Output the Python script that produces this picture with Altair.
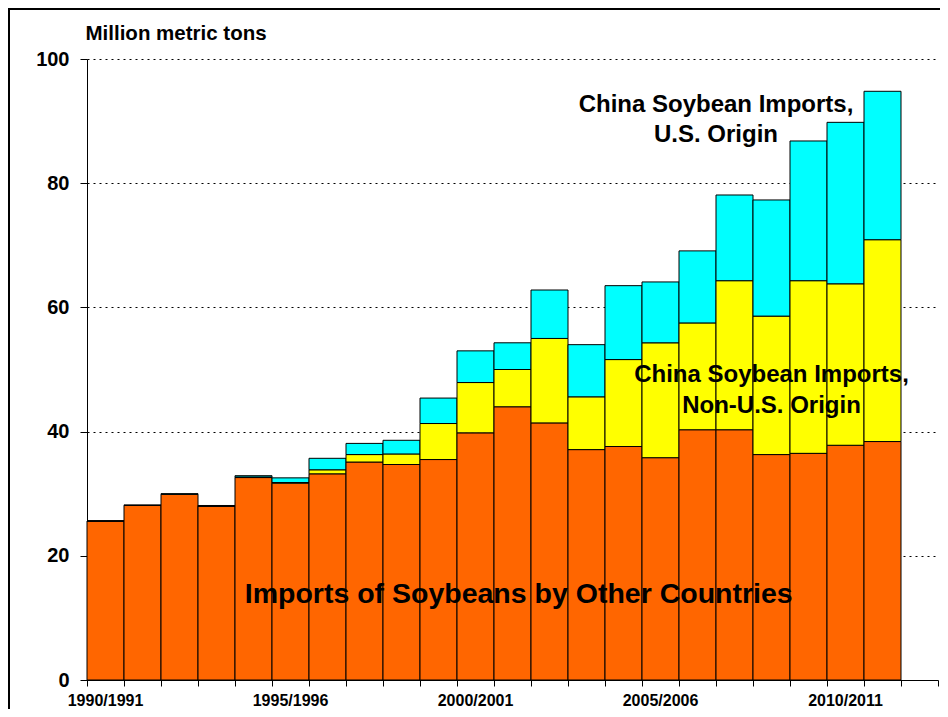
import json
import altair as alt
import pandas as pd

# ---- data -------------------------------------------------------------
years = ["1990/1991", "1991/1992", "1992/1993", "1993/1994", "1994/1995",
         "1995/1996", "1996/1997", "1997/1998", "1998/1999", "1999/2000",
         "2000/2001", "2001/2002", "2002/2003", "2003/2004", "2004/2005",
         "2005/2006", "2006/2007", "2007/2008", "2008/2009", "2009/2010",
         "2010/2011", "2011/2012"]
empty_year = "2012/2013"
labeled_years = ["1990/1991", "1995/1996", "2000/2001", "2005/2006", "2010/2011"]

other_countries = [25.6, 28.1, 29.9, 28.0, 32.6, 31.7, 33.2, 35.1, 34.7, 35.5,
                   39.8, 44.0, 41.4, 37.1, 37.6, 35.8, 40.3, 40.3, 36.3, 36.5,
                   37.8, 38.4]
china_non_us = [0.0, 0.0, 0.0, 0.0, 0.1, 0.1, 0.65, 1.2, 1.7, 5.8,
                8.1, 6.0, 13.6, 8.5, 14.0, 18.5, 17.2, 24.0, 22.3, 27.8,
                26.0, 32.5]
china_us = [0.0, 0.1, 0.1, 0.1, 0.2, 0.75, 1.85, 1.8, 2.2, 4.1,
            5.1, 4.3, 7.8, 8.4, 11.9, 9.8, 11.6, 13.8, 18.7, 22.5,
            26.0, 23.9]

series_names = ["Imports of Soybeans by Other Countries",
                "China Soybean Imports, Non-U.S. Origin",
                "China Soybean Imports, U.S. Origin"]
series_colors = ["#FF6600", "#FFFF00", "#00FFFF"]
y_ticks = [0, 20, 40, 60, 80, 100]

rows = []
for i, yr in enumerate(years):
    for k, vals in enumerate([other_countries, china_non_us, china_us]):
        rows.append({"year": yr, "series": series_names[k],
                     "value": vals[i], "order": k})
df = pd.DataFrame(rows)

# ---- layout ------------------------------------------------------------
W, H = 851, 621
FONT = "Liberation Sans"
domain_years = years + [empty_year]

label_expr = "indexof(%s, datum.label) >= 0 ? datum.label : ''" % json.dumps(labeled_years).replace('"', "'")

x_enc = alt.X(
    "year:N",
    sort=domain_years,
    scale=alt.Scale(domain=domain_years, paddingInner=0, paddingOuter=0),
    axis=alt.Axis(
        title=None, bandPosition=1, tickExtra=True,
        labelAngle=0, labelExpr=label_expr, tickSize=6, labelPadding=6,
        labelFont=FONT, labelFontSize=16, labelFontWeight="bold",
        labelColor="black", domainColor="black", tickColor="black",
        grid=False, labelOverlap=False,
    ),
)

y_enc = alt.Y(
    "value:Q",
    stack="zero",
    scale=alt.Scale(domain=[0, 100], nice=False),
    axis=alt.Axis(
        values=y_ticks, title="Million metric tons", titleAngle=0,
        titleAlign="left", titleBaseline="alphabetic", titleX=-2, titleY=-20,
        titleFont=FONT, titleFontSize=20.5, titleFontWeight="bold",
        titleColor="black", labelFont=FONT, labelFontSize=20,
        labelFontWeight="bold", labelColor="black", labelPadding=11,
        tickSize=7, tickColor="black", domainColor="black",
        gridColor="black", gridDash=[2, 4], gridOpacity=1, gridWidth=1,
    ),
)

bars = alt.Chart(df).mark_bar(stroke="black", strokeWidth=1).encode(
    x=x_enc,
    y=y_enc,
    color=alt.Color("series:N", scale=alt.Scale(domain=series_names,
                                                 range=series_colors),
                    legend=None),
    order=alt.Order("order:Q"),
)

one = pd.DataFrame({"k": [0]})

def label(lines, x, y, size, line_height):
    return alt.Chart(one).mark_text(
        text=lines, font=FONT, fontSize=size, fontWeight="bold",
        color="black", align="center", baseline="alphabetic",
        lineHeight=line_height,
    ).encode(x=alt.value(x), y=alt.value(y))

lbl_us = label(["China Soybean Imports,", "U.S. Origin"], 629, 52.7, 24, 30)
lbl_nonus = label(["China Soybean Imports,", "Non-U.S. Origin"], 684.5, 322.7, 24, 31.5)
lbl_other = label("Imports of Soybeans by Other Countries", 431.7, 543.7, 28.5, 30)

border = alt.Chart(one).mark_rect(
    fill="transparent", stroke="black", strokeWidth=2
).encode(x=alt.value(-78), x2=alt.value(1000),
         y=alt.value(-50), y2=alt.value(1000))

chart = alt.layer(bars, lbl_us, lbl_nonus, lbl_other, border).properties(
    width=W, height=H,
    autosize=alt.AutoSizeParams(type="none"),
    padding={"left": 79, "top": 51, "right": 2, "bottom": 29},
    background="white",
).configure_view(stroke=None)

chart.save("out.html", embed_options={"renderer": "svg", "actions": False})
